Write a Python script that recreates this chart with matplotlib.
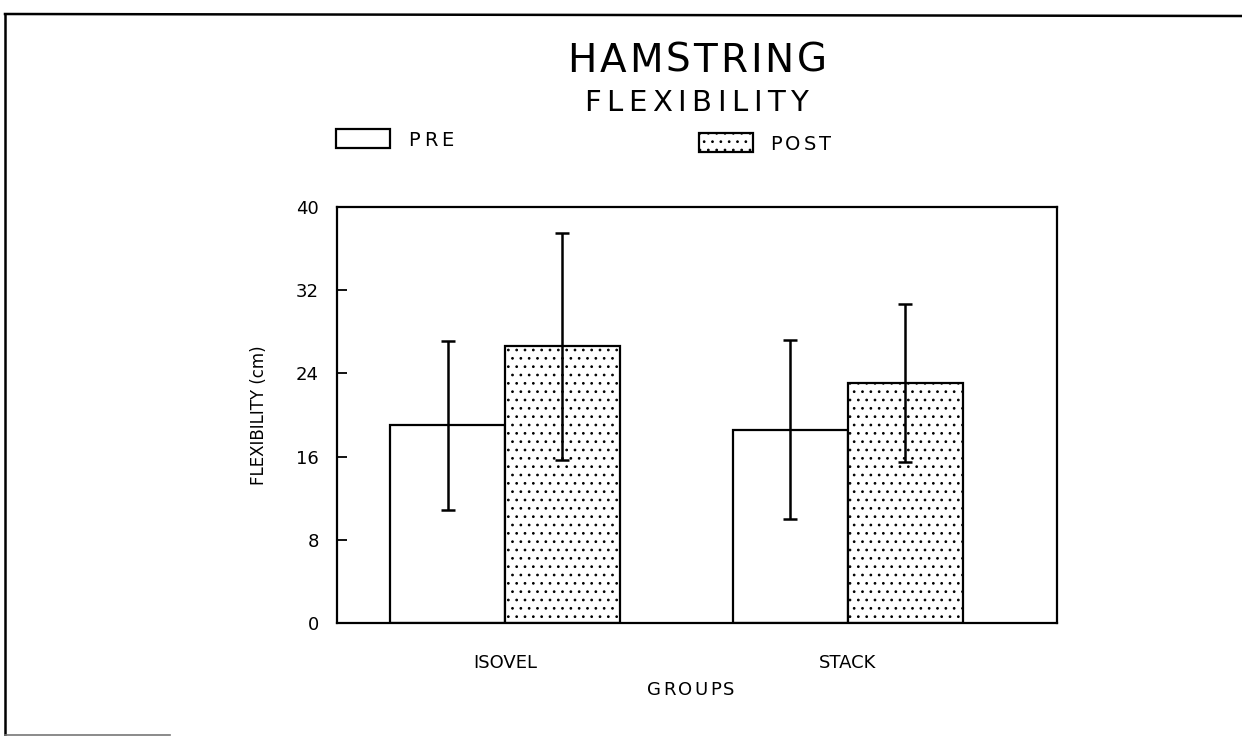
import matplotlib
matplotlib.use("Agg")
import matplotlib.pyplot as plt
from matplotlib.lines import Line2D
from matplotlib.patches import Rectangle
from matplotlib.font_manager import FontProperties
import numpy as np

plt.rcParams['font.family'] = ['DejaVu Sans']
plt.rcParams['hatch.linewidth'] = 0.75
plt.rcParams['hatch.color'] = '#4a4a4a'

groups = ["ISOVEL", "STACK"]
pre_mean = [19.0, 18.6]
pre_sd = [8.1, 8.6]
post_mean = [26.6, 23.1]
post_sd = [10.9, 7.6]
y_ticks = [0, 8, 16, 24, 32, 40]

W, H = 1242, 736
fig = plt.figure(figsize=(W / 100, H / 100), dpi=100)
renderer = fig.canvas.get_renderer()


def tracked_text(s, x_px, y_px, size, tracking, ha='center'):
    """Place a string letter by letter with extra spacing (pixel coords from top-left)."""
    prop = FontProperties(family='DejaVu Sans', size=size)

    def width(t):
        if not t:
            return 0.0
        return renderer.get_text_width_height_descent(t, prop, ismath=False)[0]

    total = width(s) + tracking * (len(s) - 1)
    start = x_px - total / 2 if ha == 'center' else x_px
    for i, ch in enumerate(s):
        cx = start + width(s[:i]) + tracking * i
        fig.text(cx / W, 1 - y_px / H, ch, ha='left', va='center',
                 fontproperties=prop)


ax = fig.add_axes([337 / W, 1 - 623 / H, 720 / W, 416 / H])

x = np.arange(len(groups))
width = 0.335

ax.bar(x - width / 2, pre_mean, width, color='white', edgecolor='black',
       linewidth=1.6, zorder=2)
ax.bar(x + width / 2, post_mean, width, color='white', edgecolor='black',
       linewidth=1.6, hatch='..', zorder=2)
ax.errorbar(x - width / 2, pre_mean, yerr=pre_sd, fmt='none', ecolor='black',
            elinewidth=1.8, capsize=5, capthick=1.8, zorder=3)
ax.errorbar(x + width / 2, post_mean, yerr=post_sd, fmt='none', ecolor='black',
            elinewidth=1.8, capsize=5, capthick=1.8, zorder=3)

ax.set_xlim(-0.49, 1.61)
ax.set_ylim(0, 40)
ax.set_yticks(y_ticks)
ax.set_yticklabels([str(v) for v in y_ticks], fontsize=13)
ax.set_xticks(x)
ax.set_xticklabels(groups, fontsize=13)
ax.tick_params(axis='y', direction='in', length=7, width=1.3, pad=13)
ax.tick_params(axis='x', length=0, pad=22)
for s in ax.spines.values():
    s.set_linewidth(1.6)

ax.set_ylabel("FLEXIBILITY (cm)", fontsize=12, labelpad=20)

# titles and axis caption
tracked_text("HAMSTRING", 697, 61, 28, 3.0)
tracked_text("FLEXIBILITY", 696, 103, 21, 5.5)
tracked_text("GROUPS", 691, 690, 13, 2.2)

# legend keys
fig.add_artist(Rectangle((336 / W, 1 - 148 / H), 54 / W, 19 / H,
                         transform=fig.transFigure, facecolor='white',
                         edgecolor='black', linewidth=1.6))
tracked_text("PRE", 408, 141, 14, 4.0, ha='left')
fig.add_artist(Rectangle((699 / W, 1 - 152 / H), 54 / W, 19 / H,
                         transform=fig.transFigure, facecolor='white',
                         edgecolor='black', linewidth=1.6, hatch='..'))
tracked_text("POST", 770, 145, 14, 3.2, ha='left')

# page frame
fig.add_artist(Line2D([5 / W, 5 / W], [0, 1 - 14 / H],
                      transform=fig.transFigure, color='black', linewidth=1.8))
fig.add_artist(Line2D([5 / W, 1], [1 - 14 / H, 1 - 16 / H],
                      transform=fig.transFigure, color='black', linewidth=1.8))
fig.add_artist(Line2D([5 / W, 170 / W], [1 / H, 1 / H],
                      transform=fig.transFigure, color='#777777', linewidth=1.2))

fig.savefig("out.png", dpi=100, facecolor='white')
